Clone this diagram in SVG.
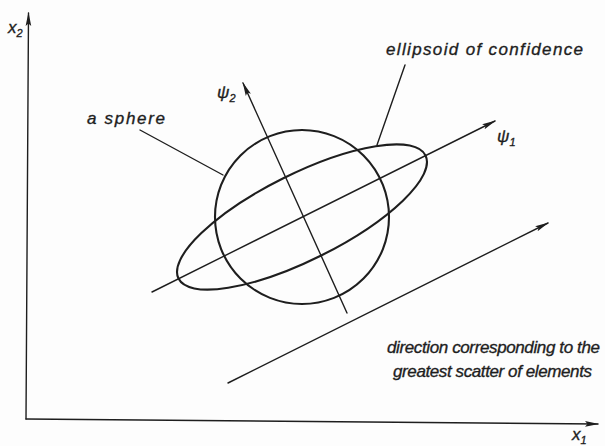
<svg xmlns="http://www.w3.org/2000/svg" width="605" height="446" viewBox="0 0 605 446">
<style>
.ln{fill:none;stroke:#1e1e1e;stroke-linecap:round}
.thin{stroke-width:1.4}
.thick{stroke-width:2.1}
.lab{font-family:"Liberation Sans","DejaVu Sans",sans-serif;font-style:italic;font-size:17px;fill:#1e1e1e;stroke:#1e1e1e;stroke-width:0.35}
.sub{font-size:11px}
</style>
<defs>
<marker id="ah" viewBox="0 0 14 8" refX="13" refY="4" markerWidth="14" markerHeight="8" markerUnits="userSpaceOnUse" orient="auto">
<path d="M0,1.2 L14,4 L0,6.8 L2.5,4 z" fill="#1e1e1e"/>
</marker>
</defs>
<rect width="605" height="446" fill="#fdfdfd"/>
<g id="axes">
<line class="ln thin" x1="26" y1="419" x2="28.5" y2="13" marker-end="url(#ah)"/>
<line class="ln thin" x1="26" y1="419" x2="598" y2="424" marker-end="url(#ah)"/>
<text class="lab" x="8" y="33">x<tspan class="sub" dy="4">2</tspan></text>
<text class="lab" x="572" y="440">x<tspan class="sub" dy="4">1</tspan></text>
</g>
<g id="sphere">
<circle class="ln thick" cx="302" cy="217" r="87"/>
</g>
<g id="ellipsoid">
<ellipse class="ln thick" cx="302" cy="217" rx="138" ry="43" transform="rotate(-26.5 302 217)"/>
</g>
<g id="connectors">
<line class="ln thin" x1="152" y1="292" x2="495" y2="121" marker-end="url(#ah)"/>
<line class="ln thin" x1="347" y1="313" x2="243" y2="83" marker-end="url(#ah)"/>
<line class="ln thin" x1="228" y1="383" x2="548" y2="223" marker-end="url(#ah)"/>
<line class="ln thin" x1="140" y1="130" x2="223" y2="175"/>
<line class="ln thin" x1="405" y1="65" x2="377" y2="145"/>
</g>
<g id="labels">
<text class="lab" x="217" y="98">ψ<tspan class="sub" dy="4">2</tspan></text>
<text class="lab" x="497" y="142">ψ<tspan class="sub" dy="4">1</tspan></text>
<text class="lab" x="87" y="124" textLength="78">a sphere</text>
<text class="lab" x="386" y="55" textLength="197">ellipsoid of confidence</text>
<text class="lab" x="387" y="353" textLength="213">direction corresponding to the</text>
<text class="lab" x="393" y="377" textLength="199">greatest scatter of elements</text>
</g>
</svg>
